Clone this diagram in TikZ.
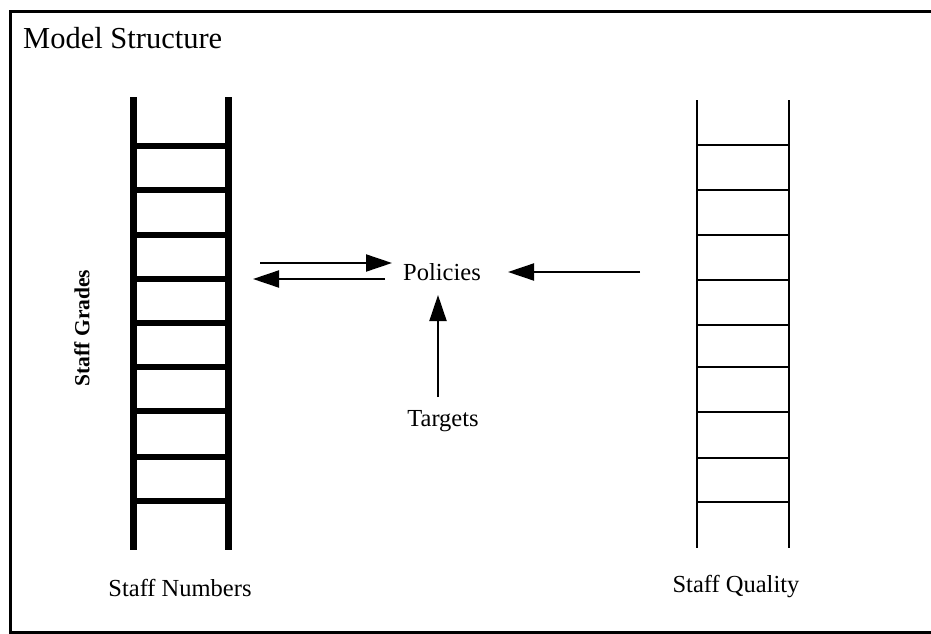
\documentclass[tikz,border=0pt]{standalone}
\usepackage{fontspec}
\setmainfont{Liberation Serif}
\usetikzlibrary{arrows.meta}
\begin{document}
\begin{tikzpicture}[x=1pt,y=-1pt,
  lbl/.style={inner sep=0pt,font=\fontsize{24.5}{29}\selectfont},
  arr/.style={line width=2pt,-{Triangle[length=26pt,width=17pt]}},
  thickrail/.style={line width=7pt},
  thickrung/.style={line width=6pt},
  thinrail/.style={line width=2.5pt},
  thinrung/.style={line width=2.5pt},
  frame/.style={line width=3pt}]
\useasboundingbox (0,0) rectangle (931,634);
\draw[frame] (932,12) -- (10,12) -- (10,632) -- (932,632);
\node[lbl,anchor=west,font=\fontsize{30.5}{36}\selectfont] (title) at (23,38) {Model Structure};
% left ladder (Staff Numbers)
\draw[thickrail] (133,97) -- (133,550);
\draw[thickrail] (228,97) -- (228,550);
\foreach \y in {146,190,235,279,323,367,411,457,501}
  \draw[thickrung] (133,\y) -- (228,\y);
% right ladder (Staff Quality)
\draw[thinrail] (697,100) -- (697,548);
\draw[thinrail] (789,100) -- (789,548);
\foreach \y in {145,190,235,280,325,367,412,458,502}
  \draw[thinrung] (697,\y) -- (789,\y);
% labels
\node[lbl,font=\bfseries\fontsize{21.5}{25}\selectfont,rotate=90] (grades) at (82,328) {Staff Grades};
\node[lbl] (numbers) at (180,588) {Staff Numbers};
\node[lbl] (quality) at (736,587) {Staff Quality};
\node[lbl] (pol) at (442,272) {Policies};
\node[lbl] (tg) at (443,421) {Targets};
% arrow end points
\coordinate (numOut) at (260,263);
\coordinate (polInL) at (392,263);
\coordinate (polOutL) at (385,279);
\coordinate (numIn) at (253,279);
\coordinate (qualOut) at (640,272);
\coordinate (polInR) at (508,272);
\coordinate (tgOut) at (438,397);
\coordinate (polInB) at (438,295);
\draw[arr] (numOut) -- (polInL);
\draw[arr] (polOutL) -- (numIn);
\draw[arr] (qualOut) -- (polInR);
\draw[arr] (tgOut) -- (polInB);
\end{tikzpicture}
\end{document}
